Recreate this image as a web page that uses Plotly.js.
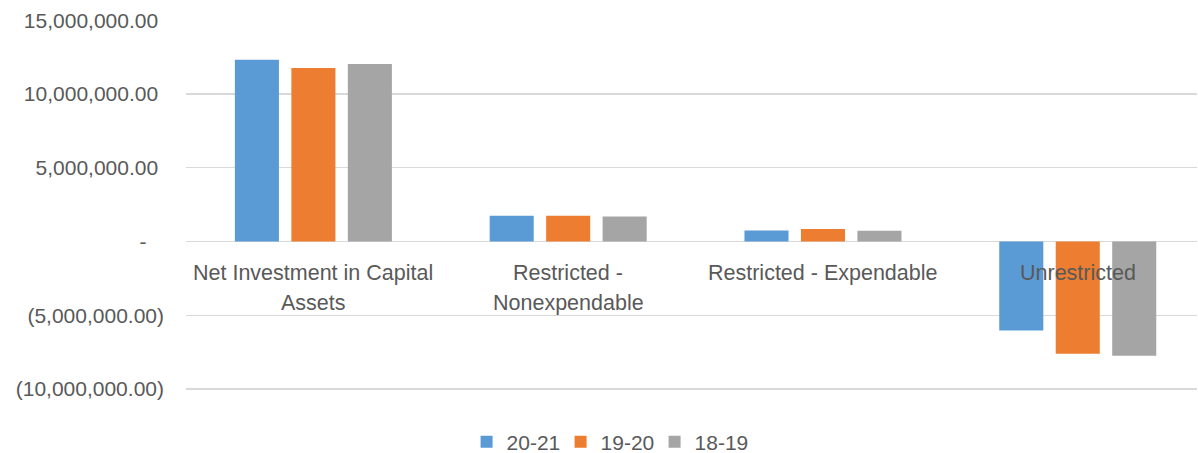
<!DOCTYPE html>
<html>
<head>
<meta charset="utf-8">
<script src="https://cdn.plot.ly/plotly-3.0.1.min.js"></script>
<style>
  html, body { margin: 0; padding: 0; background: #fff; }
  #chart { width: 1198px; height: 453px; }
</style>
</head>
<body>
<div id="chart"></div>
<script>
var categories = ["Net Investment in Capital Assets", "Restricted - Nonexpendable", "Restricted - Expendable", "Unrestricted"];
var categoryLabelLines = [["Net Investment in Capital", "Assets"], ["Restricted -", "Nonexpendable"], ["Restricted - Expendable"], ["Unrestricted"]];
var seriesNames = ["20-21", "19-20", "18-19"];
var values2021 = [12330000, 1750000, 750000, -6030000];
var values1920 = [11760000, 1750000, 840000, -7620000];
var values1819 = [12040000, 1700000, 730000, -7750000];
var yTickVals = [15000000, 10000000, 5000000, 0, -5000000, -10000000];
var yTickText = ["15,000,000.00\u00a0", "10,000,000.00\u00a0", "5,000,000.00\u00a0", "-\u00a0\u00a0\u00a0", "(5,000,000.00)", "(10,000,000.00)"];

var colors = ["#5B9BD5", "#ED7D31", "#A5A5A5"];
var allValues = [values2021, values1920, values1819];
var FONT = "Liberation Sans, Arial, sans-serif";

var traces = seriesNames.map(function (name, i) {
  return {
    type: "bar",
    name: name,
    x: categories,
    y: allValues[i],
    marker: { color: colors[i] },
    hoverinfo: "x+y+name"
  };
});

var annotations = [];
categories.forEach(function (c, i) {
  categoryLabelLines[i].forEach(function (line, k) {
    annotations.push({
      xref: "x", yref: "y",
      x: c, y: 0,
      text: line,
      showarrow: false,
      yanchor: "top",
      xanchor: "center",
      yshift: -18 - 30 * k,
      font: { family: FONT, size: 21.5, color: "#595959" }
    });
  });
});

var layout = {
  width: 1198,
  height: 453,
  margin: { l: 186, r: 1, t: 20, b: 62, autoexpand: false },
  paper_bgcolor: "#ffffff",
  plot_bgcolor: "#ffffff",
  font: { family: FONT, size: 21, color: "#595959" },
  barmode: "group",
  bargap: 0.335,
  bargroupgap: 0.22,
  xaxis: {
    type: "category",
    range: [-0.5, 3.468],
    showticklabels: false,
    showgrid: false,
    zeroline: false,
    showline: false,
    ticks: ""
  },
  yaxis: {
    range: [-10140000, 15020000],
    tickvals: yTickVals,
    ticktext: yTickText,
    showgrid: true,
    gridcolor: "#D9D9D9",
    gridwidth: 1.3,
    zeroline: true,
    zerolinecolor: "#D9D9D9",
    zerolinewidth: 1.3,
    showline: false,
    ticks: "",
    ticklabelstandoff: 21,
    tickfont: { family: FONT, size: 21, color: "#595959" }
  },
  legend: {
    orientation: "h",
    x: 0.417,
    xanchor: "center",
    y: -0.138,
    yanchor: "middle",
    entrywidth: 49,
    font: { family: FONT, size: 21, color: "#595959" },
    traceorder: "normal"
  },
  annotations: annotations,
  showlegend: true
};

Plotly.newPlot("chart", traces, layout, { displayModeBar: false, staticPlot: true });
</script>
</body>
</html>
